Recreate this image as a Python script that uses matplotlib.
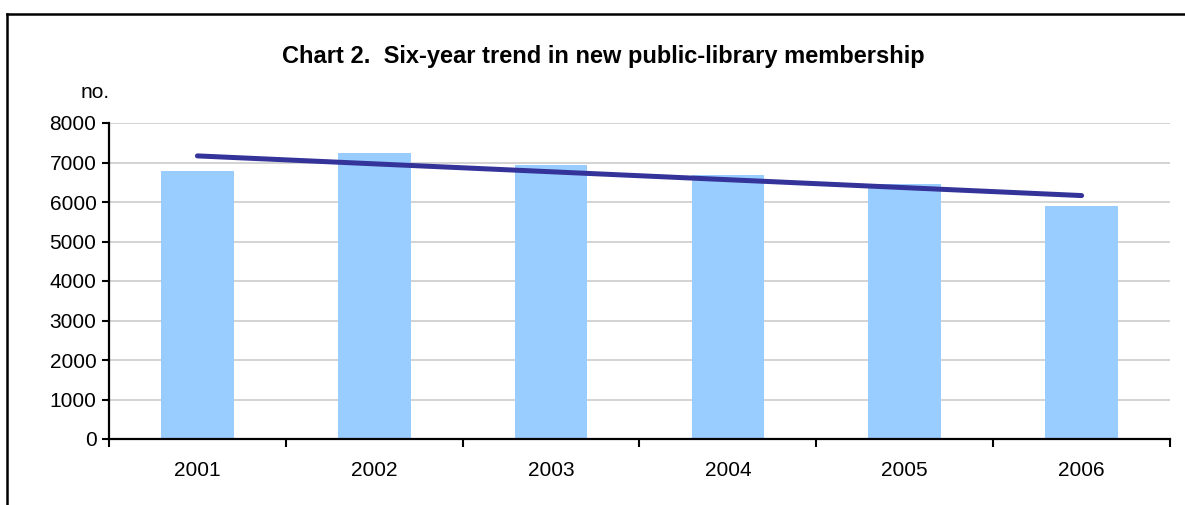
import numpy as np
import matplotlib
matplotlib.use("Agg")
import matplotlib.pyplot as plt
from matplotlib.lines import Line2D

plt.rcParams['font.family'] = ['Liberation Sans', 'DejaVu Sans']

years = ['2001', '2002', '2003', '2004', '2005', '2006']
members = [6780, 7240, 6940, 6680, 6450, 5900]

W, H = 1185, 505
fig = plt.figure(figsize=(W / 100, H / 100), dpi=100)
ax = fig.add_axes([109 / W, 1 - 439 / H, (1170 - 109) / W, (439 - 123) / H])

x = np.arange(len(years))
ax.bar(x, members, width=0.41, color='#99ccff', zorder=2)

# linear trend line through the bars
slope, icpt = np.polyfit(x, members, 1)
ax.plot(x, slope * x + icpt, color='#333399', lw=3.6, solid_capstyle='round', zorder=3)

ax.set_xlim(-0.5, len(years) - 0.5)
ax.set_ylim(0, 8000)
ax.set_yticks(range(0, 8001, 1000))
ax.yaxis.grid(True, color='#d0d0d0', lw=1.3, zorder=0)
ax.set_axisbelow(True)

ax.set_xticks(x)
ax.set_xticklabels(years)
ax.set_xticks(np.arange(-0.5, len(years)), minor=True)
ax.tick_params(axis='x', which='major', length=0, pad=16, labelsize=15)
ax.tick_params(axis='x', which='minor', length=6, width=1.5, direction='out')
ax.tick_params(axis='y', length=5, width=1.5, direction='out', pad=4, labelsize=15)

for s in ['top', 'right']:
    ax.spines[s].set_visible(False)
for s in ['left', 'bottom']:
    ax.spines[s].set_linewidth(1.6)

fig.text(603 / W, 1 - 56 / H, 'Chart 2.  Six-year trend in new public-library membership',
         ha='center', va='center', fontsize=17, fontweight='bold')
fig.text(95 / W, 1 - 93 / H, 'no.', ha='center', va='center', fontsize=15)

# outer frame (top and left edges visible)
fig.add_artist(Line2D([7 / W, 1], [1 - 14 / H, 1 - 14 / H], color='black', lw=1.8,
                      transform=fig.transFigure))
fig.add_artist(Line2D([7 / W, 7 / W], [0, 1 - 14 / H], color='black', lw=1.8,
                      transform=fig.transFigure))

fig.savefig('out.png', dpi=100)
